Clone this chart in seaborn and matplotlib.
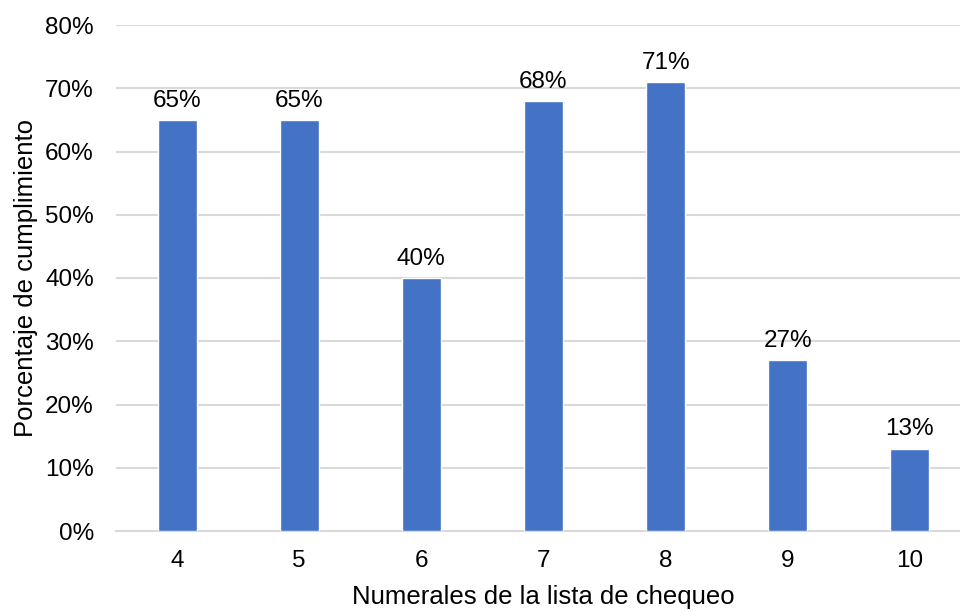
import pandas as pd
import numpy as np
import matplotlib
matplotlib.use("Agg")
import matplotlib.pyplot as plt
import seaborn as sns

numerales = ["4", "5", "6", "7", "8", "9", "10"]
cumplimiento = [65, 65, 40, 68, 71, 27, 13]

df = pd.DataFrame({"Numeral": numerales, "Cumplimiento": cumplimiento})

sns.set_style("white")
plt.rcParams['font.family'] = ['Liberation Sans', 'DejaVu Sans']
plt.rcParams['text.color'] = 'black'
plt.rcParams['axes.labelcolor'] = 'black'

fig = plt.figure(figsize=(9.6, 6.11), dpi=100)
ax = fig.add_axes([116 / 960, 1 - 531 / 611, 855 / 960, 506 / 611])

sns.barplot(data=df, x="Numeral", y="Cumplimiento", color="#4472C4",
            width=0.32, saturation=1, ax=ax, zorder=3)

ax.set_ylim(0, 80)
ax.set_xlim(-0.5, 6.5)
ax.set_yticks(np.arange(0, 81, 10))
ax.set_yticklabels([f"{v}%" for v in range(0, 81, 10)])
ax.yaxis.grid(True, color="#d9d9d9", linewidth=1.5, zorder=0)
ax.set_axisbelow(True)
for s in ["top", "right", "left"]:
    ax.spines[s].set_visible(False)
ax.spines["bottom"].set_color("#d9d9d9")
ax.spines["bottom"].set_linewidth(1.5)
ax.tick_params(axis="both", length=0, labelsize=17.5, colors="black")
ax.tick_params(axis="x", pad=14)
ax.tick_params(axis="y", pad=16)

for i, v in enumerate(cumplimiento):
    ax.annotate(f"{v}%", (i, v), xytext=(0, 6), textcoords="offset points",
                ha="center", va="bottom", fontsize=17.5, color="black")

ax.set_xlabel("Numerales de la lista de chequeo", fontsize=18.5, labelpad=9)
ax.set_ylabel("Porcentaje de cumplimiento", fontsize=18.5, labelpad=5)

fig.savefig("out.png", dpi=100)
